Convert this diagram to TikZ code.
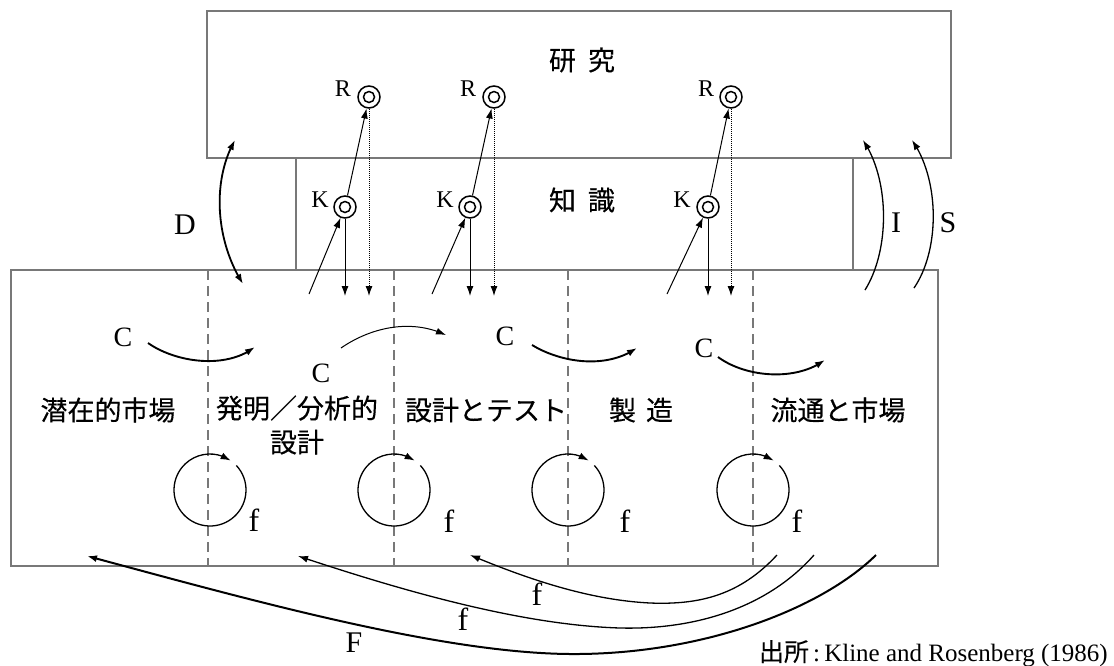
\documentclass[tikz,border=0pt]{standalone}
\usepackage{fontspec}
\setmainfont{Liberation Serif}
\newfontfamily\jp[FakeBold=0.3]{Noto Sans CJK JP}
\usetikzlibrary{arrows.meta,bending}
\definecolor{boxgray}{RGB}{120,120,120}
\begin{document}
\begin{tikzpicture}[x=1pt,y=-1pt,
  boxline/.style={draw=boxgray,line width=2.5pt},
  divider/.style={draw=boxgray,line width=2.2pt,dash pattern=on 10pt off 6pt},
  jlabel/.style={font=\jp\fontsize{27}{34}\selectfont,inner sep=0pt,align=center},
  rklabel/.style={font=\fontsize{24}{24}\selectfont,inner sep=0pt},
  clabel/.style={font=\fontsize{28}{28}\selectfont,inner sep=0pt},
  biglabel/.style={font=\fontsize{30}{30}\selectfont,inner sep=0pt},
  flabel/.style={font=\fontsize{32}{32}\selectfont,inner sep=0pt},
  dcirc/.style={circle,draw,line width=1.5pt,minimum size=22pt,inner sep=0pt,
     path picture={\draw[line width=1.5pt] (path picture bounding box.center) circle[radius=5.5pt];}},
  tipend/.style={-{Latex[length=10pt,width=7pt]}},
  thinarr/.style={tipend,line width=1pt},
  medarr/.style={tipend,line width=1.3pt},
  thickarr/.style={tipend,line width=1.9pt},
  bothtips/.style={{Latex[length=10pt,width=7pt]}-{Latex[length=10pt,width=7pt]},line width=1.8pt},
  loopline/.style={-{Latex[length=10pt,width=7pt,flex]},line width=1.3pt}
]
\useasboundingbox (0,0) rectangle (1114,665);

% boxes
\draw[boxline] (207,11) rectangle (951,158);
\draw[boxline] (296,158) -- (296,270);
\draw[boxline] (853,158) -- (853,270);
\draw[boxline] (11,270) rectangle (938,566);

% stage dividers
\foreach \xx in {208,394,568,753}
  \draw[divider] (\xx,270) -- (\xx,566);

% titles
\node[jlabel] (research) at (582,60) {研\hspace{12pt}究};
\node[jlabel] (knowledge) at (582,200) {知\hspace{12pt}識};

% stage labels
\node[jlabel] (s1) at (108,410) {潜在的市場};
\node[jlabel] (s2) at (297,425) {発明／分析的\\設計};
\node[jlabel] (s3) at (486,410) {設計とテスト};
\node[jlabel] (s4) at (641,410) {製\hspace{10pt}造};
\node[jlabel] (s5) at (838,410) {流通と市場};

% R and K markers
\node[dcirc] (R1) at (369,97) {};
\node[dcirc] (R2) at (494,97) {};
\node[dcirc] (R3) at (731,97) {};
\node[dcirc] (K1) at (345,207) {};
\node[dcirc] (K2) at (470,207) {};
\node[dcirc] (K3) at (708,207) {};
\node[rklabel] (Rl1) at (343,89) {R};
\node[rklabel] (Rl2) at (468,89) {R};
\node[rklabel] (Rl3) at (706,89) {R};
\node[rklabel] (Kl1) at (320,200) {K};
\node[rklabel] (Kl2) at (445,200) {K};
\node[rklabel] (Kl3) at (682,200) {K};

\coordinate (lowY) at (0,296);
\coordinate (b1) at (309,294);
\coordinate (b2) at (432,294);
\coordinate (b3) at (667,294);

\foreach \i in {1,2,3}{
  \draw[thinarr] (K\i) -- (R\i);
  \draw[thinarr] (b\i) -- (K\i);
  \draw[thinarr] (K\i) -- (K\i |- lowY);
  \draw[thinarr,densely dotted] (R\i) -- (R\i |- lowY);
}

% D, I, S
\coordinate (Dtop) at (235,140);
\coordinate (Dbot) at (243,284);
\draw[bothtips] (Dtop) .. controls (212,180) and (215,240) .. (Dbot);
\node[biglabel] (Dl) at (185,225) {D};

\coordinate (Ibot) at (865,290);
\coordinate (Itop) at (863,140);
\draw[medarr] (Ibot) .. controls (890,250) and (890,180) .. (Itop);
\node[biglabel] (Il) at (896,223) {I};

\coordinate (Sbot) at (914,288);
\coordinate (Stop) at (912,140);
\draw[medarr] (Sbot) .. controls (940,250) and (940,180) .. (Stop);
\node[biglabel] (Sl) at (948,223) {S};

% C arrows
\node[clabel] (C1) at (123,337) {C};
\node[clabel] (C2) at (321,373) {C};
\node[clabel] (C3) at (505,336) {C};
\node[clabel] (C4) at (704,348) {C};
\coordinate (c1s) at (148,343); \coordinate (c1e) at (255,347);
\coordinate (c2s) at (341,348); \coordinate (c2e) at (446,335);
\coordinate (c3s) at (532,345); \coordinate (c3e) at (637,348);
\coordinate (c4s) at (718,357); \coordinate (c4e) at (825,360);
\draw[thickarr] (c1s) .. controls (175,362) and (225,370) .. (c1e);
\draw[thinarr] (c2s) .. controls (370,328) and (410,318) .. (c2e);
\draw[thickarr] (c3s) .. controls (560,362) and (605,370) .. (c3e);
\draw[thickarr] (c4s) .. controls (745,377) and (795,382) .. (c4e);

% feedback loops
\coordinate (L1) at (210,490);
\coordinate (L2) at (394,490);
\coordinate (L3) at (568,490);
\coordinate (L4) at (753,490);
\foreach \i in {1,2,3,4}
  \draw[loopline] (L\i) ++(43:36pt) arc[start angle=43,end angle=-305,radius=36pt];
\node[flabel] (fl1) at (254,520) {f};
\node[flabel] (fl2) at (449,521) {f};
\node[flabel] (fl3) at (625,521) {f};
\node[flabel] (fl4) at (797,521) {f};

% long feedback arrows
\coordinate (Fs) at (876,555); \coordinate (Fe) at (87,556);
\coordinate (f2s) at (814,555); \coordinate (f2e) at (298,556);
\coordinate (f1s) at (777,555); \coordinate (f1e) at (470,555);
\draw[tipend,line width=2pt] (Fs) .. controls (820,610) and (700,655) .. (570,654)
   .. controls (440,653) and (250,600) .. (Fe);
\draw[medarr] (f2s) .. controls (770,605) and (700,630) .. (620,628)
   .. controls (520,625) and (400,590) .. (f2e);
\draw[medarr] (f1s) .. controls (740,595) and (700,605) .. (650,603)
   .. controls (590,600) and (530,580) .. (f1e);
\node[biglabel] (Fl) at (354,643) {F};
\node[flabel] (fa) at (537,594) {f};
\node[flabel] (fb) at (463,619) {f};

% source
\node[anchor=base east,inner sep=0pt,font=\fontsize{25}{25}\selectfont] (src) at (1108,661)
  {{\jp 出所}\,:\,Kline and Rosenberg (1986)};
\end{tikzpicture}
\end{document}
